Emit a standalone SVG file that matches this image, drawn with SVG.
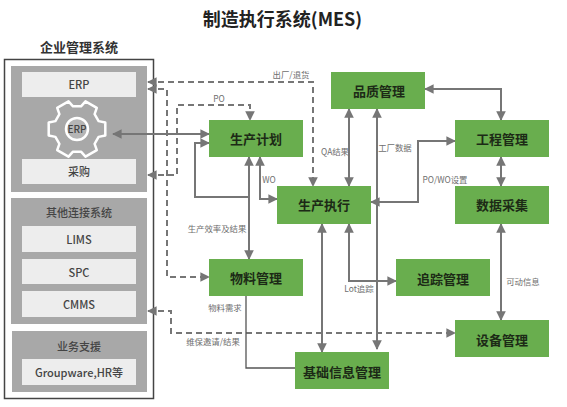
<svg xmlns="http://www.w3.org/2000/svg" width="567" height="407" viewBox="0 0 567 407">
<style>
text{font-family:"Noto Sans CJK SC","Noto Sans",sans-serif;text-anchor:middle;dominant-baseline:central}
.n{fill:#69AE4E}
.nt{font-size:13px;font-weight:700;fill:#1c2a16}
.p{fill:#A8A8A8}
.l{fill:#EDEDED}
.lt{font-size:11px;font-weight:500;fill:#444}
.c{font-size:8.4px;fill:#6e6e6e}
.s,.d{fill:none;stroke:#767676;stroke-width:2}
.d{stroke-dasharray:6 4}
.t{stroke:#555;stroke-width:1.3}
</style>
<defs>
<marker id="a" viewBox="0 0 10 10" refX="9" refY="5" markerWidth="4.8" markerHeight="4.8" orient="auto-start-reverse"><path d="M0 0L10 5L0 10Z" fill="#767676"/></marker>
</defs>
<rect width="567" height="407" fill="#fff"/>
<text x="282.500" y="18" font-size="18" font-weight="700" fill="#222">制造执行系统(MES)</text>
<g id="enterprise">
<text x="79" y="46" font-size="13" font-weight="700" fill="#333">企业管理系统</text>
<rect x="4.500" y="59.500" width="149" height="339" fill="#fff" stroke="#444" stroke-width="1.500"/>
<rect class="p" x="11" y="66" width="136" height="126"/>
<rect class="p" x="11" y="198" width="136" height="126"/>
<rect class="p" x="12" y="331" width="135" height="61"/>
</g>
<g id="erp"><rect class="l" x="22" y="72" width="114" height="25"/><text class="lt" x="79" y="84">ERP</text></g>
<g id="erp-gear">
<path transform="translate(77 129)" d="M21.600 -7.900L28.300 -6.500L28.300 6.500L21.600 7.900L17.600 14.800L19.800 21.200L8.500 27.700L4 22.700L-4 22.700L-8.500 27.700L-19.800 21.200L-17.600 14.800L-21.600 7.900L-28.300 6.500L-28.300 -6.500L-21.600 -7.900L-17.600 -14.800L-19.800 -21.200L-8.500 -27.700L-4 -22.700L4 -22.700L8.500 -27.700L19.800 -21.200L17.600 -14.800Z" fill="#A8A8A8" stroke="#fff" stroke-width="2.500" stroke-linejoin="round"/>
<circle cx="77" cy="129" r="11" fill="#B5B5B5" stroke="#fff" stroke-width="2.500"/>
<text class="lt" x="77" y="128" style="font-size:10px">ERP</text>
</g>
<g id="purchase"><rect class="l" x="22" y="159" width="114" height="25"/><text class="lt" x="79" y="171">采购</text></g>
<g id="other"><text class="lt" x="79" y="212">其他连接系统</text></g>
<g id="lims"><rect class="l" x="22" y="226" width="114" height="26"/><text class="lt" x="79" y="239">LIMS</text></g>
<g id="spc"><rect class="l" x="22" y="259" width="114" height="25"/><text class="lt" x="79" y="272">SPC</text></g>
<g id="cmms"><rect class="l" x="22" y="291" width="114" height="26"/><text class="lt" x="79" y="304">CMMS</text></g>
<g id="support"><text class="lt" x="79" y="346">业务支援</text></g>
<g id="groupware"><rect class="l" x="22" y="359" width="114" height="26"/><text class="lt" x="79" y="372">Groupware,HR等</text></g>
<g id="connectors">
<path class="d" d="M148 82H313V186" marker-start="url(#a)" marker-end="url(#a)"/>
<path class="d" d="M148 89H167V277H209" marker-start="url(#a)" marker-end="url(#a)"/>
<path class="d" d="M148 175H177V105H250V120" marker-start="url(#a)" marker-end="url(#a)"/>
<path class="d" d="M148 311H171V333H455" marker-start="url(#a)" marker-end="url(#a)"/>
<path class="s" d="M113 134H209" marker-start="url(#a)" marker-end="url(#a)"/>
<path class="s" d="M209 143H195V197H249" marker-start="url(#a)"/>
<path class="s" d="M249 157V259" marker-start="url(#a)" marker-end="url(#a)"/>
<path class="s" d="M260 157V199H277" marker-start="url(#a)" marker-end="url(#a)"/>
<path class="s" d="M349 109V186" marker-start="url(#a)" marker-end="url(#a)"/>
<path class="s" d="M377 109V349" marker-start="url(#a)" marker-end="url(#a)"/>
<path class="s" d="M425 89H501V120" marker-start="url(#a)" marker-end="url(#a)"/>
<path class="s" d="M501 157V186" marker-start="url(#a)" marker-end="url(#a)"/>
<path class="s" d="M371 202H418V141H455" marker-start="url(#a)" marker-end="url(#a)"/>
<path class="s" d="M501 224V320" marker-start="url(#a)" marker-end="url(#a)"/>
<path class="s" d="M349 224V281H396" marker-start="url(#a)" marker-end="url(#a)"/>
<path class="s" d="M322 224V352" marker-start="url(#a)" marker-end="url(#a)"/>
<path class="s t" d="M246 296V368H295"/>
<text class="c" x="291" y="74">出厂/退货</text>
<text class="c" x="219" y="98">PO</text>
<text class="c" x="269" y="179">WO</text>
<text class="c" x="335" y="151">QA结果</text>
<text class="c" x="395" y="147">工厂数据</text>
<text class="c" x="445" y="179">PO/WO设置</text>
<text class="c" x="217" y="228">生产效率及结果</text>
<text class="c" x="225" y="307">物料需求</text>
<text class="c" x="213" y="341">维保邀请/结果</text>
<text class="c" x="359" y="288">Lot追踪</text>
<text class="c" x="523" y="281">可动信息</text>
</g>
<g id="plan"><rect class="n" x="209" y="120" width="94" height="37"/><text class="nt" x="256" y="138">生产计划</text></g>
<g id="quality"><rect class="n" x="331" y="72" width="94" height="37"/><text class="nt" x="379" y="90">品质管理</text></g>
<g id="engineering"><rect class="n" x="455" y="120" width="94" height="37"/><text class="nt" x="502" y="138">工程管理</text></g>
<g id="collect"><rect class="n" x="455" y="186" width="94" height="38"/><text class="nt" x="502" y="204">数据采集</text></g>
<g id="execute"><rect class="n" x="277" y="186" width="94" height="38"/><text class="nt" x="324" y="204">生产执行</text></g>
<g id="material"><rect class="n" x="209" y="259" width="94" height="37"/><text class="nt" x="256" y="277">物料管理</text></g>
<g id="trace"><rect class="n" x="396" y="259" width="94" height="37"/><text class="nt" x="443" y="278">追踪管理</text></g>
<g id="equipment"><rect class="n" x="455" y="320" width="94" height="37"/><text class="nt" x="502" y="339">设备管理</text></g>
<g id="basic"><rect class="n" x="295" y="352" width="94" height="37"/><text class="nt" x="342" y="371">基础信息管理</text></g>
</svg>
